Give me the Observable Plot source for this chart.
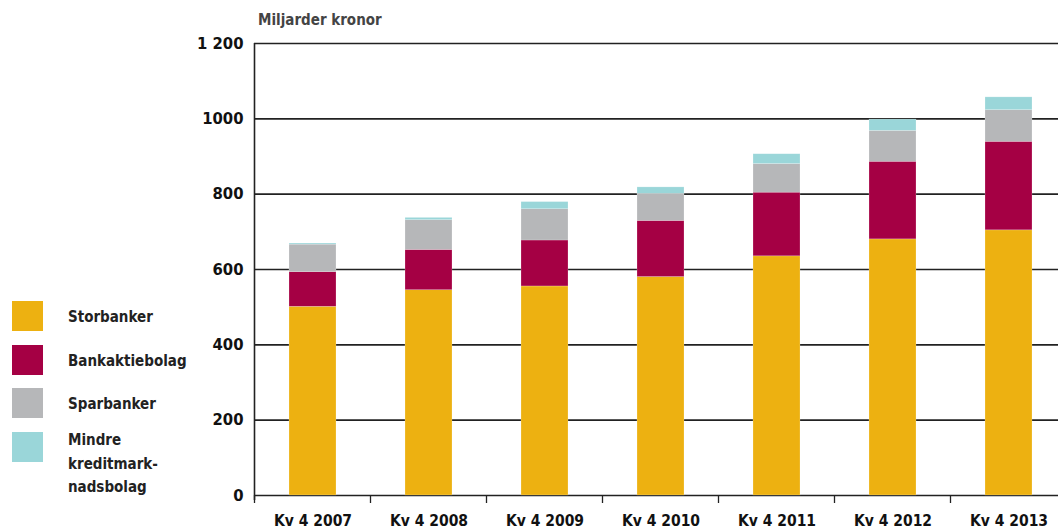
<!DOCTYPE html>
<html><head><meta charset="utf-8">
<script src="https://cdn.jsdelivr.net/npm/d3@7"></script>
<script src="https://cdn.jsdelivr.net/npm/@observablehq/plot@0.6"></script>
<style>
html,body{margin:0;padding:0;background:#fff;overflow:hidden;}
#wrap{position:relative;width:1058px;height:530px;overflow:hidden;font-family:"DejaVu Sans Condensed","DejaVu Sans",sans-serif;}
#chart{position:absolute;left:0;top:0;width:1066px;}
#title{position:absolute;left:258px;top:11px;font-size:15px;font-weight:bold;color:#444;}
#legend{position:absolute;left:12px;top:301px;}
.li{position:absolute;left:0;width:190px;}
.sw{position:absolute;left:0;top:0;width:31px;height:30px;}
.lt{position:absolute;left:56px;top:5px;font-size:15px;font-weight:bold;color:#222;line-height:23.5px;}
.lt.multi{top:-3px;}
</style></head>
<body><div id="wrap"><div id="chart"></div><div id="title">Miljarder kronor</div><div id="legend"></div></div>
<script>
const periods = ["Kv 4 2007","Kv 4 2008","Kv 4 2009","Kv 4 2010","Kv 4 2011","Kv 4 2012","Kv 4 2013"];
const series = ["Storbanker","Bankaktiebolag","Sparbanker","Mindre kreditmarknadsbolag"];
const legendLabels = ["Storbanker","Bankaktiebolag","Sparbanker","Mindre<br>kreditmark-<br>nadsbolag"];
const storbanker = [501, 545, 555, 580, 635, 680, 704];
const bankaktiebolag = [92, 107, 122, 149, 169, 206, 235];
const sparbanker = [73, 79, 83, 72, 76, 82, 84];
const mindre = [3, 6, 19, 17, 26, 30, 34];
const colors = ["#EDB111","#A50044","#B6B7B9","#9AD6D9"];
const yTicks = [0,200,400,600,800,1000,1200];

const values = [storbanker, bankaktiebolag, sparbanker, mindre];
const data = [];
series.forEach((s, si) => periods.forEach((p, pi) => data.push({period: p, series: s, value: values[si][pi]})));

const plot = Plot.plot({
  width: 1066, height: 530,
  marginLeft: 254, marginRight: 0, marginTop: 43, marginBottom: 35,
  style: {fontFamily: '"DejaVu Sans Condensed","DejaVu Sans",sans-serif', overflow: "visible", maxWidth: "none"},
  x: {domain: periods, paddingInner: 0.595, paddingOuter: 0.2975, align: 0.5, label: null},
  y: {domain: [0, 1200], ticks: yTicks, label: null},
  color: {domain: series, range: colors},
  marks: [
    Plot.ruleY(yTicks, {stroke: "#222", strokeWidth: 1.6}),
    Plot.barY(data, {x: "period", y: "value", fill: "series", order: series, stroke: "#fff", strokeOpacity: 0.35, strokeWidth: 0.6}),
    Plot.axisY({ticks: yTicks, tickSize: 0, tickPadding: 11, fontSize: 16.5, fontWeight: "bold", fill: "#111",
      tickFormat: d => d >= 1100 ? d3.format(",")(d).replace(",", " ") : String(d)}),
    Plot.axisX({tickSize: 0, tickPadding: 19, fontSize: 15.5, fontWeight: "bold", fill: "#111"})
  ]
});
document.getElementById("chart").appendChild(plot);

// left axis line and bottom tick marks at band boundaries, from the scales
const svg = d3.select(plot);
const xs = plot.scale("x"), ys = plot.scale("y");
const y0 = ys.apply(0), yTop = ys.apply(1200);
const x0 = xs.apply(periods[0]) - (xs.step - xs.bandwidth) / 2;
svg.append("line").attr("x1", x0).attr("x2", x0).attr("y1", yTop).attr("y2", y0 + 5).attr("stroke", "#222").attr("stroke-width", 1.6);
d3.range(periods.length + 1).forEach(i => {
  const x = x0 + i * xs.step;
  svg.append("line").attr("x1", x).attr("x2", x).attr("y1", y0).attr("y2", y0 + 8).attr("stroke", "#222").attr("stroke-width", 1.3);
});

const lg = document.getElementById("legend");
legendLabels.forEach((l, i) => {
  const d = document.createElement("div");
  d.className = "li"; d.style.top = (i * 43.7) + "px";
  const multi = l.includes("<br>") ? " multi" : "";
  d.innerHTML = `<div class="sw" style="background:${colors[i]}"></div><div class="lt${multi}">${l}</div>`;
  lg.appendChild(d);
});
</script></body></html>
